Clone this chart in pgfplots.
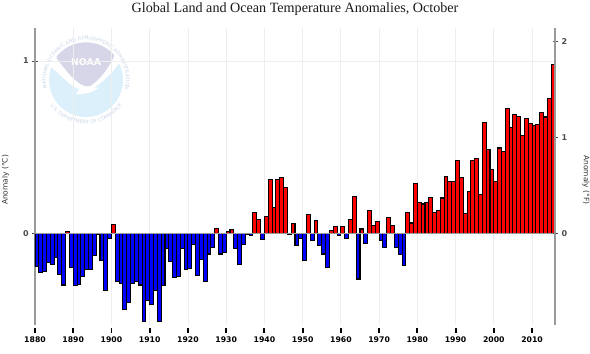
\documentclass[border=0pt]{standalone}
\usepackage{pgfplots}
\pgfplotsset{compat=1.18}
\usepackage{fontspec}
\setmainfont{DejaVu Sans}
\newfontfamily\titlefont{Liberation Serif}
\usetikzlibrary{decorations.text}
\definecolor{axgray}{HTML}{999999}
\definecolor{gridc}{HTML}{EEEEEE}
\definecolor{logoblue}{HTML}{DCF0FB}
\definecolor{logolav}{HTML}{D6D6E8}
\definecolor{ringc}{HTML}{C9D5E6}
\begin{document}
\begin{tikzpicture}
\path[use as bounding box] (0,0) rectangle (442.5pt,265.5pt);
% NOAA logo
\begin{scope}[shift={(30pt,243pt)},x=0.25pt,y=-0.25pt]
  \fill[logoblue] (138,150) circle (111);
  \begin{scope}
    \clip (138,150) circle (113);
    \fill[white] (15,100) .. controls (55,120) and (80,165) .. (118,178)
      -- (108,192) .. controls (135,195) and (160,185) .. (178,172)
      -- (160,176) .. controls (195,150) and (225,120) .. (245,88)
      -- (222,60) -- (50,60) -- cycle;
    \fill[logolav] (50,85) -- (50,20) -- (228,20) -- (222,80)
      .. controls (205,115) and (180,150) .. (150,168)
      .. controls (125,175) and (95,145) .. (50,85) -- cycle;
  \end{scope}
  \node[white,font=\fontsize{7}{8}\selectfont\bfseries] at (138,97) {NOAA};
\end{scope}
\path[decorate,decoration={text along path,text align=center,
   text={|\fontsize{3.7}{4}\selectfont\color{ringc}|NATIONAL OCEANIC AND ATMOSPHERIC ADMINISTRATION}}]
   (64.5pt,205.5pt) ++(196:30pt) arc[start angle=196,end angle=-18,radius=30pt];
\path[decorate,decoration={text along path,text align=center,
   text={|\fontsize{3.7}{4}\selectfont\color{ringc}|U.S. DEPARTMENT OF COMMERCE}}]
   (64.5pt,205.5pt) ++(205:33pt) arc[start angle=205,end angle=335,radius=33pt];
% main axis
\begin{axis}[
  at={(26.25pt,21.75pt)},anchor=south west,
  scale only axis,width=390pt,height=222.75pt,
  xmin=1880,xmax=2016,ymin=-0.532,ymax=1.1915,
  axis x line*=bottom,axis y line*=left,
  x axis line style={draw=none,-},
  y axis line style={draw=axgray,line width=1.5pt,-},
  xtick={1880,1890,...,2010},ytick={0,1},
  x tick label style={/pgf/number format/1000 sep={},font=\fontsize{5.8}{7}\selectfont\bfseries,yshift=-1.2pt},
  y tick label style={font=\fontsize{6}{7}\selectfont\bfseries,text=black!70,xshift=0.6pt},
  /pgf/number format/assume math mode=true,
  x tick style={draw=black,line width=1.4pt,yshift=-1.9pt},
  y tick style={draw=black!70,line width=0.7pt},
  tick align=center,major tick length=3.75pt,
  grid=major,major grid style={gridc,line width=0.6pt,yshift=0pt},
  bar width=1,
  ybar,
]
\addplot[fill=blue,draw=black,line width=0.8pt,bar shift=0.5] coordinates {
(1880,-0.19)(1881,-0.23)(1882,-0.22)(1883,-0.17)(1884,-0.18)(1885,-0.14)(1886,-0.24)(1887,-0.30)
(1889,-0.20)(1890,-0.305)(1891,-0.295)(1892,-0.25)(1893,-0.21)(1894,-0.21)(1895,-0.13)(1896,-0.005)
(1897,-0.16)(1898,-0.33)(1899,-0.03)(1901,-0.28)(1902,-0.29)(1903,-0.44)(1904,-0.40)(1905,-0.29)
(1906,-0.28)(1907,-0.30)(1908,-0.51)(1909,-0.39)(1910,-0.415)(1911,-0.33)(1912,-0.51)(1913,-0.305)
(1914,-0.09)(1915,-0.165)(1916,-0.255)(1917,-0.25)(1918,-0.09)(1919,-0.21)(1920,-0.205)(1921,-0.065)
(1922,-0.245)(1923,-0.15)(1924,-0.28)(1925,-0.12)(1926,-0.08)(1928,-0.12)(1929,-0.11)(1932,-0.09)
(1933,-0.18)(1934,-0.065)(1935,-0.005)(1936,-0.015)(1939,-0.035)(1946,-0.005)(1948,-0.07)(1949,-0.03)
(1950,-0.16)(1952,-0.04)(1954,-0.07)(1955,-0.12)(1956,-0.20)(1959,-0.015)(1961,-0.03)(1964,-0.265)
(1966,-0.06)(1970,-0.04)(1971,-0.08)(1974,-0.08)(1975,-0.125)(1976,-0.185)
};
\addplot[fill=red,draw=black,line width=0.8pt,bar shift=0.5] coordinates {
(1888,0.01)(1900,0.05)(1927,0.03)(1930,0.01)(1931,0.02)(1937,0.12)(1938,0.08)(1940,0.10)
(1941,0.31)(1942,0.15)(1943,0.315)(1944,0.325)(1945,0.265)(1947,0.055)(1951,0.11)(1953,0.075)
(1957,0.015)(1958,0.04)(1960,0.04)(1962,0.08)(1963,0.215)(1965,0.025)(1967,0.13)(1968,0.045)
(1969,0.07)(1972,0.09)(1973,0.045)(1977,0.12)(1978,0.06)(1979,0.29)
(1980,0.18)(1981,0.17)(1982,0.18)(1983,0.21)(1984,0.12)(1985,0.13)(1986,0.205)(1987,0.33)
(1988,0.30)(1989,0.30)(1990,0.425)(1991,0.325)(1992,0.115)(1993,0.24)(1994,0.425)(1995,0.435)
(1996,0.225)(1997,0.645)(1998,0.485)(1999,0.37)(2000,0.30)(2001,0.495)(2002,0.475)(2003,0.725)
(2004,0.615)(2005,0.69)(2006,0.68)(2007,0.565)(2008,0.665)(2009,0.64)(2010,0.625)(2011,0.63)
(2012,0.70)(2013,0.675)(2014,0.78)(2015,0.98)
};
\draw[draw=axgray,line width=0.8pt] (axis cs:1880,0) -- (axis cs:2016,0);
\end{axis}
% right axis (degrees F)
\begin{axis}[
  at={(26.25pt,21.75pt)},anchor=south west,
  scale only axis,width=390pt,height=222.75pt,
  xmin=1880,xmax=2016,ymin=-0.9576,ymax=2.1447,
  axis x line=none,axis y line*=right,
  y axis line style={draw=axgray,line width=1.5pt,-},
  ytick={0,1,2},
  y tick label style={font=\fontsize{6}{7}\selectfont\bfseries,text=black!70,xshift=-0.5pt},
  /pgf/number format/assume math mode=true,
  y tick style={draw=black!70,line width=0.7pt},
  tick align=center,major tick length=3.75pt,
]
\end{axis}
% texts
\node[font=\titlefont\fontsize{10.6}{12}\selectfont,text=black!90] at (221.25pt,258.5pt) {Global Land and Ocean Temperature Anomalies, October};
\node[rotate=90,font=\fontsize{5.6}{7}\selectfont,text=black!80] at (4.2pt,130.5pt) {Anomaly (°C)};
\node[rotate=-90,font=\fontsize{5.6}{7}\selectfont,text=black!80] at (439.5pt,130.5pt) {Anomaly (°F)};
\end{tikzpicture}
\end{document}
